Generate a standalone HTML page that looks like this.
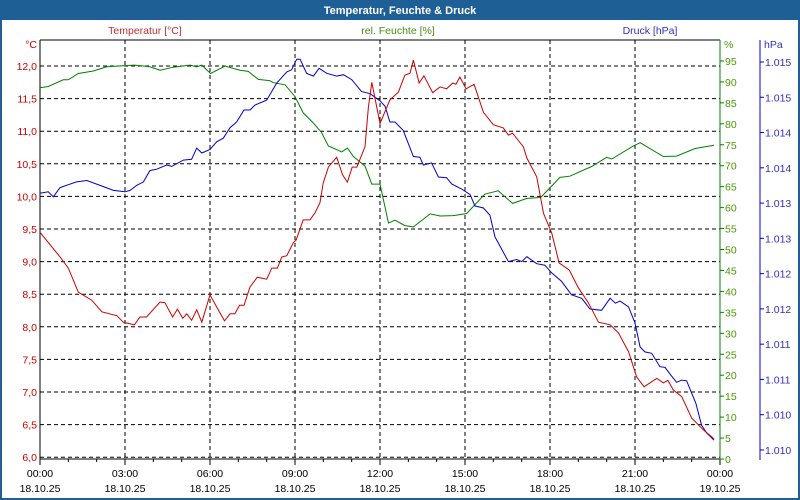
<!DOCTYPE html>
<html><head><meta charset="utf-8"><style>
html,body{margin:0;padding:0;background:#fff}
#wrap{position:relative;width:800px;height:500px;overflow:hidden;font-family:"Liberation Sans","DejaVu Sans",sans-serif}
svg text{font-family:"Liberation Sans","DejaVu Sans",sans-serif;font-size:10.5px}
</style></head><body>
<div id="wrap">
<svg id="chart" width="800" height="500">
<rect x="0" y="0" width="800" height="500" fill="#fff"/>
<rect x="0" y="0" width="800" height="20" fill="#1e5f96"/>
<text x="400" y="14" text-anchor="middle" fill="#fff" font-weight="bold" style="font-size:11px">Temperatur, Feuchte &amp; Druck</text>
<rect x="1" y="1" width="798" height="498" fill="none" stroke="#1e5f96" stroke-width="2"/>
<text x="145" y="34" text-anchor="middle" fill="#c03030">Temperatur [°C]</text>
<text x="398" y="34" text-anchor="middle" fill="#4a8a10">rel. Feuchte [%]</text>
<text x="650" y="34" text-anchor="middle" fill="#3030c0">Druck [hPa]</text>
<text x="37" y="48" text-anchor="end" fill="#cc0000">°C</text>
<text x="724" y="48" fill="#4a9a00">%</text>
<text x="764" y="48" fill="#3030c0">hPa</text>
<g id="grid"></g><g id="axes"></g><g id="series"></g>
</svg>
</div>
<script>
const tempTimes=[0,0.71,1.0,1.35,1.82,2.18,2.71,2.94,3.33,3.53,3.76,4.24,4.41,4.68,4.85,5.04,5.18,5.35,5.53,5.71,6.0,6.24,6.51,6.71,6.88,7.04,7.2,7.41,7.67,8.0,8.18,8.38,8.53,8.71,8.94,9.04,9.29,9.53,9.71,9.88,10.0,10.18,10.47,10.68,10.85,11.02,11.18,11.47,11.59,11.71,11.82,12.0,12.35,12.65,12.88,13.06,13.18,13.38,13.55,13.86,14.12,14.35,14.57,14.68,14.82,15.04,15.32,15.65,16.0,16.35,16.53,16.68,17.06,17.18,17.53,17.77,18.06,18.32,18.68,19.0,19.35,19.71,20.12,20.41,20.77,21.06,21.32,21.77,22.0,22.16,22.35,22.65,23.0,23.41,23.79];
const tempValues=[9.45,9.07,8.90,8.53,8.41,8.23,8.17,8.07,8.03,8.15,8.15,8.38,8.37,8.15,8.27,8.13,8.20,8.10,8.26,8.07,8.49,8.30,8.09,8.20,8.20,8.33,8.33,8.61,8.76,8.73,8.90,8.90,9.07,9.09,9.29,9.33,9.64,9.64,9.75,9.90,10.21,10.45,10.60,10.33,10.22,10.45,10.45,10.76,11.37,11.75,11.51,11.12,11.48,11.60,11.86,11.89,12.09,11.74,11.85,11.59,11.68,11.65,11.74,11.72,11.83,11.65,11.72,11.29,11.10,11.05,10.94,10.97,10.76,10.59,10.30,9.74,9.44,8.98,8.87,8.60,8.37,8.07,8.03,7.91,7.62,7.23,7.08,7.21,7.14,7.18,7.03,6.93,6.60,6.42,6.28];
const humTimes=[0,0.29,0.82,1.0,1.35,1.88,2.35,3.0,3.35,3.88,4.24,4.7,5.29,5.53,5.71,6.02,6.53,7.06,7.35,7.7,8.1,8.24,8.65,9.0,9.29,9.65,9.94,10.18,10.65,10.85,11.06,11.47,11.71,12.0,12.3,12.53,12.88,13.18,13.77,14.12,14.59,15.06,15.7,16.17,16.68,17.18,17.67,18.35,18.7,19.47,20.0,20.18,20.94,21.18,22.0,22.47,23.12,23.79];
const humValues=[88.6,88.9,90.5,90.5,92.0,92.6,93.6,93.9,94.0,93.6,92.8,93.5,94.0,93.6,94.0,92.0,93.8,92.8,92.5,90.6,90.3,89.8,89.3,86.5,82.6,80.2,77.9,74.7,73.3,74.2,72.2,69.9,65.6,65.6,56.3,57.0,55.7,55.4,58.5,58.0,58.1,58.6,63.2,64.0,61.0,62.2,62.4,67.2,67.5,69.8,72.0,71.6,74.7,75.5,72.2,72.3,74.1,74.9];
const presTimes=[0,0.29,0.47,0.71,1.0,1.29,1.65,2.12,2.59,3.0,3.18,3.41,3.65,3.88,4.12,4.47,4.65,5.06,5.35,5.53,5.71,6.0,6.24,6.47,6.71,6.94,7.2,7.41,7.59,8.0,8.35,8.71,8.88,9.06,9.18,9.41,9.65,9.85,10.12,10.47,10.71,11.0,11.35,11.65,12.0,12.18,12.35,12.53,12.82,13.18,13.41,13.53,13.82,14.06,14.35,14.53,14.88,15.18,15.35,15.65,15.88,16.06,16.29,16.53,16.82,17.0,17.18,17.53,17.82,18.06,18.41,18.76,19.12,19.41,19.82,20.12,20.31,20.47,20.77,21.0,21.18,21.35,21.59,21.88,22.06,22.29,22.47,22.65,22.82,23.15,23.35,23.53,23.79];
const presValues=[1.01339,1.01341,1.01334,1.01347,1.01351,1.01355,1.01357,1.01350,1.01343,1.01341,1.01343,1.01350,1.01355,1.01371,1.01373,1.01379,1.01377,1.01386,1.01387,1.01403,1.01396,1.01401,1.01412,1.01417,1.01432,1.01440,1.01457,1.01457,1.01464,1.01471,1.01495,1.01511,1.01514,1.01529,1.01529,1.01509,1.01505,1.01516,1.01509,1.01505,1.01507,1.01500,1.01483,1.01480,1.01470,1.01462,1.01440,1.01440,1.01428,1.01391,1.01390,1.01379,1.01382,1.01362,1.01361,1.01352,1.01345,1.01337,1.01321,1.01318,1.01308,1.01277,1.01260,1.01242,1.01245,1.01242,1.01249,1.01239,1.01237,1.01226,1.01214,1.01195,1.01190,1.01175,1.01173,1.01190,1.01183,1.01186,1.01178,1.01155,1.01121,1.01114,1.01112,1.01093,1.01092,1.01080,1.01071,1.01074,1.01073,1.01041,1.01010,1.00999,1.00989];
const tempTicks=[6.0,6.5,7.0,7.5,8.0,8.5,9.0,9.5,10.0,10.5,11.0,11.5,12.0];
const humTicks=[0,5,10,15,20,25,30,35,40,45,50,55,60,65,70,75,80,85,90,95];
const presTicks=[1.00975,1.01025,1.01075,1.01125,1.01175,1.01225,1.01275,1.01325,1.01375,1.01425,1.01475,1.01525];
const presTickLabels=["1.010","1.010","1.011","1.011","1.012","1.012","1.013","1.013","1.014","1.014","1.015","1.015"];
const timeTicks=[0,3,6,9,12,15,18,21,24];
const timeLabels=["00:00","03:00","06:00","09:00","12:00","15:00","18:00","21:00","00:00"];
const dateLabels=["18.10.25","18.10.25","18.10.25","18.10.25","18.10.25","18.10.25","18.10.25","18.10.25","19.10.25"];

const L=40,R=720,T=40,B=459;
const xS=h=>L+h*(R-L)/24;
const yT=v=>66+(12-v)*65.2;
const yH=v=>B-v*4.19;
const yP=v=>62+(1.01525-v)/0.0005*35.27;
const NS='http://www.w3.org/2000/svg';
function mk(tag,attrs,parent){const e=document.createElementNS(NS,tag);for(const k in attrs)e.setAttribute(k,attrs[k]);parent.appendChild(e);return e;}
const grid=document.getElementById('grid'),axes=document.getElementById('axes'),series=document.getElementById('series');
// horizontal grid
tempTicks.forEach((v,i)=>{
  const y=yT(v);
  const g=mk('line',{x1:L,x2:R,y1:y,y2:y,stroke:'#000','stroke-dasharray':'4,3','stroke-width':1},grid);
  
  
  const t=mk('text',{x:37,y:y+4,'text-anchor':'end',fill:'#cc0000'},axes);
  t.textContent=v.toFixed(1).replace('.',',');
  
  
});
timeTicks.forEach((h,i)=>{
  const x=xS(h);
  if(i>0&&i<timeTicks.length-1){
    const g=mk('line',{x1:x,x2:x,y1:T,y2:B,stroke:'#000','stroke-dasharray':'4,3'},grid);
    
    
  }
  const tk=mk('line',{x1:x,x2:x,y1:B,y2:B+6,stroke:'#000'},axes);
  
  
  const t1=mk('text',{x:x,y:477,'text-anchor':'middle',fill:'#000'},axes);
  t1.textContent=timeLabels[i];
  
  
  const t2=mk('text',{x:x,y:492,'text-anchor':'middle',fill:'#000'},axes);
  t2.textContent=dateLabels[i];
  
  
});
for(let h=1;h<24;h++){ if(h%3===0)continue; const x=xS(h);
  const m=mk('line',{x1:x,x2:x,y1:B,y2:B+3,stroke:'#000'},axes);
  
  
}
humTicks.forEach(v=>{const y=yH(v);
  const tk=mk('line',{x1:R,x2:R+4,y1:y,y2:y,stroke:'#008000'},axes);
  
  
  const t=mk('text',{x:725,y:y+4,fill:'#4a9a00'},axes);
  t.textContent=v;
  
  
});
presTicks.forEach((v,i)=>{const y=yP(v);
  const tk=mk('line',{x1:760,x2:764,y1:y,y2:y,stroke:'#0000cc'},axes);
  
  
  const t=mk('text',{x:765,y:y+4,fill:'#3030c0'},axes);
  t.textContent=presTickLabels[i];
  
  
});
let a;
a=mk('line',{x1:L,x2:R,y1:T,y2:T,stroke:'#000'},axes);
a=mk('line',{x1:L,x2:L,y1:T,y2:B,stroke:'#000'},axes);
a=mk('line',{x1:L,x2:R,y1:B,y2:B,stroke:'#000'},axes);
a=mk('line',{x1:R,x2:R,y1:T,y2:B+1,stroke:'#008000'},axes);
a=mk('line',{x1:760,x2:760,y1:40,y2:460,stroke:'#0000cc'},axes);
function line(ts,vs,ys,color,name){
  const pts=ts.map((t,i)=>xS(t).toFixed(1)+','+ys(vs[i]).toFixed(1)).join(' ');
  const p=mk('polyline',{points:pts,fill:'none',stroke:color,'stroke-width':1},series);
  
  
}
line(humTimes,humValues,yH,'#008000','humidity-line');
line(presTimes,presValues,yP,'#0000cc','pressure-line');
line(tempTimes,tempValues,yT,'#cc0000','temperature-line');
</script>
</body></html>
